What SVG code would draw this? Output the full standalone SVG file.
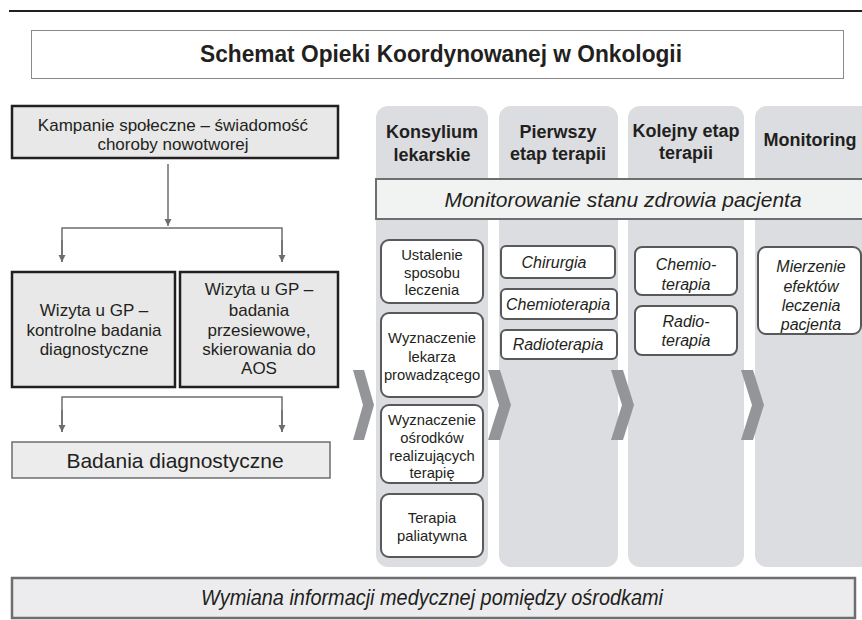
<svg xmlns="http://www.w3.org/2000/svg" width="862" height="620" viewBox="0 0 862 620">
<defs>
<marker id="ah" markerWidth="8" markerHeight="8" refX="7" refY="4" orient="auto" markerUnits="userSpaceOnUse">
<path d="M0,0.5 L7,4 L0,7.5 Z" fill="#6d6e70"/>
</marker>
</defs>
<style>
text{font-family:"Liberation Sans",Arial,sans-serif;fill:#231f20;text-anchor:middle}
.lbox{fill:#e8e8e8;stroke:#231f20;stroke-width:2.5}
.col{fill:#dcdde0}
.wbox{fill:#ffffff;stroke:#58595b;stroke-width:2}
.chev{fill:#939598}
.conn{fill:none;stroke:#6d6e70;stroke-width:1.5}
.t17{font-size:17px}
.hd{font-size:18px;font-weight:bold}
.c1{font-size:14.8px}
.it{font-size:16px;font-style:italic}
</style>
<line x1="9" y1="11" x2="862" y2="11" stroke="#231f20" stroke-width="2"/>
<g id="title">
<rect x="31.5" y="30.5" width="812" height="48" fill="#ffffff" stroke="#8a8a8a" stroke-width="1"/>
<text x="441" y="62" style="font-size:24px;font-weight:bold" textLength="482" lengthAdjust="spacingAndGlyphs">Schemat Opieki Koordynowanej w Onkologii</text>
</g>
<g id="kampanie">
<rect class="lbox" x="12" y="106" width="326" height="52"/>
<text class="t17" x="173" y="131">Kampanie społeczne – świadomość</text>
<text class="t17" x="173" y="150">choroby nowotworej</text>
</g>
<g id="wizyta1">
<rect class="lbox" x="12" y="272" width="163" height="115"/>
<text class="t17" x="94" y="316">Wizyta u GP –</text>
<text class="t17" x="94" y="335.5">kontrolne badania</text>
<text class="t17" x="94" y="355">diagnostyczne</text>
</g>
<g id="wizyta2">
<rect class="lbox" x="180" y="272" width="158" height="115"/>
<text class="t17" x="259" y="295">Wizyta u GP –</text>
<text class="t17" x="259" y="316">badania</text>
<text class="t17" x="259" y="335.5">przesiewowe,</text>
<text class="t17" x="259" y="355">skierowania do</text>
<text class="t17" x="259" y="374">AOS</text>
</g>
<g id="badania">
<rect x="12" y="442" width="318" height="36" fill="#ececec" stroke="#6d6e70" stroke-width="1.5"/>
<text x="175" y="468" style="font-size:21px">Badania diagnostyczne</text>
</g>
<g id="connectors">
<line class="conn" x1="168" y1="164" x2="168" y2="226" marker-end="url(#ah)"/>
<polyline class="conn" points="62,262 62,228 282,228 282,262"/>
<line class="conn" x1="62" y1="240" x2="62" y2="262" marker-end="url(#ah)"/>
<line class="conn" x1="282" y1="240" x2="282" y2="262" marker-end="url(#ah)"/>
<polyline class="conn" points="62,432 62,397 282,397 282,432"/>
<line class="conn" x1="62" y1="410" x2="62" y2="432" marker-end="url(#ah)"/>
<line class="conn" x1="282" y1="410" x2="282" y2="432" marker-end="url(#ah)"/>
</g>
<g id="columns">
<rect class="col" x="376" y="106" width="112" height="461" rx="12"/>
<rect class="col" x="499" y="106" width="119" height="461" rx="12"/>
<rect class="col" x="628" y="106" width="116" height="461" rx="12"/>
<rect class="col" x="755" y="106" width="125" height="461" rx="12"/>
</g>
<g id="headers">
<text class="hd" x="432" y="138">Konsylium</text>
<text class="hd" x="432" y="161">lekarskie</text>
<text class="hd" x="558" y="138">Pierwszy</text>
<text class="hd" x="558" y="160">etap terapii</text>
<text class="hd" x="686" y="137">Kolejny etap</text>
<text class="hd" x="686" y="159">terapii</text>
<text class="hd" x="810" y="146">Monitoring</text>
</g>
<g id="monitorowanie">
<rect x="376" y="179" width="500" height="40" fill="#f1f2f2" stroke="#6d6e70" stroke-width="2"/>
<text x="623" y="207" style="font-size:21px;font-style:italic">Monitorowanie stanu zdrowia pacjenta</text>
</g>
<g id="chevrons">
<polygon class="chev" points="353,370 364,370 374,405 364,440 353,440 363,405"/>
<polygon class="chev" points="488,370 500,370 511,405 500,440 488,440 499,405"/>
<polygon class="chev" points="611,370 623,370 634,405 623,440 611,440 622,405"/>
<polygon class="chev" points="741,370 753,370 764,405 753,440 741,440 752,405"/>
</g>
<g id="ustalenie">
<rect class="wbox" x="381" y="240" width="102" height="63" rx="8"/>
<text class="c1" x="432" y="260">Ustalenie</text>
<text class="c1" x="432" y="278">sposobu</text>
<text class="c1" x="432" y="295">leczenia</text>
</g>
<g id="wyznaczenie-lekarza">
<rect class="wbox" x="381" y="313" width="102" height="84" rx="8"/>
<text class="c1" x="432" y="343">Wyznaczenie</text>
<text class="c1" x="432" y="362">lekarza</text>
<text class="c1" x="432" y="380">prowadzącego</text>
</g>
<g id="wyznaczenie-osrodkow">
<rect class="wbox" x="381" y="405" width="102" height="78" rx="8"/>
<text class="c1" x="432" y="425">Wyznaczenie</text>
<text class="c1" x="432" y="443">ośrodków</text>
<text class="c1" x="432" y="461">realizujących</text>
<text class="c1" x="432" y="478">terapię</text>
</g>
<g id="paliatywna">
<rect class="wbox" x="381" y="494" width="102" height="63" rx="8"/>
<text class="c1" x="432" y="523">Terapia</text>
<text class="c1" x="432" y="541">paliatywna</text>
</g>
<g id="chirurgia">
<rect class="wbox" x="501" y="246" width="114" height="32" rx="5"/>
<text class="it" x="554" y="268">Chirurgia</text>
</g>
<g id="chemioterapia1">
<rect class="wbox" x="501" y="289" width="116" height="30" rx="5"/>
<text class="it" x="558" y="310">Chemioterapia</text>
</g>
<g id="radioterapia1">
<rect class="wbox" x="501" y="330" width="116" height="29" rx="5"/>
<text class="it" x="558" y="350">Radioterapia</text>
</g>
<g id="chemioterapia2">
<rect class="wbox" x="635" y="247" width="102" height="48" rx="7"/>
<text class="it" x="686" y="270">Chemio-</text>
<text class="it" x="686" y="290">terapia</text>
</g>
<g id="radioterapia2">
<rect class="wbox" x="635" y="306" width="102" height="49" rx="7"/>
<text class="it" x="686" y="327">Radio-</text>
<text class="it" x="686" y="346">terapia</text>
</g>
<g id="mierzenie">
<rect class="wbox" x="758" y="247" width="103" height="87" rx="8"/>
<text class="it" x="811" y="272">Mierzenie</text>
<text class="it" x="811" y="292">efektów</text>
<text class="it" x="811" y="311">leczenia</text>
<text class="it" x="811" y="330">pacjenta</text>
</g>
<g id="wymiana">
<rect x="12" y="578" width="843" height="40" fill="#ececee" stroke="#6d6e70" stroke-width="2.5"/>
<text x="432" y="605" style="font-size:22px;font-style:italic" textLength="462" lengthAdjust="spacingAndGlyphs">Wymiana informacji medycznej pomiędzy ośrodkami</text>
</g>
</svg>
